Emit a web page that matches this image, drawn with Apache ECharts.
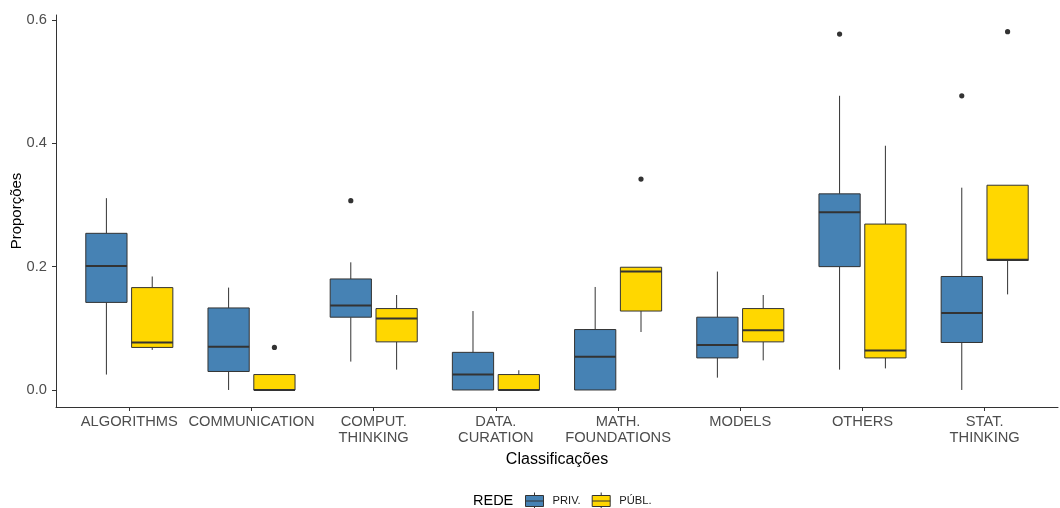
<!DOCTYPE html>
<html>
<head>
<meta charset="utf-8">
<script src="https://cdn.jsdelivr.net/npm/echarts@6/dist/echarts.min.js"></script>
<style>html,body{margin:0;padding:0;background:#fff}#c{width:1060px;height:508px}</style>
</head>
<body>
<div id="c"></div>
<script>
// Categories (x axis)
const categories = ['ALGORITHMS', 'COMMUNICATION', 'COMPUT.\nTHINKING', 'DATA.\nCURATION',
  'MATH.\nFOUNDATIONS', 'MODELS', 'OTHERS', 'STAT.\nTHINKING'];
// Box statistics per category: [min, Q1, median, Q3, max]
const privStats = [
  [0.025, 0.142, 0.201, 0.254, 0.311],
  [0.000, 0.030, 0.070, 0.133, 0.166],
  [0.046, 0.118, 0.137, 0.180, 0.207],
  [0.000, 0.000, 0.025, 0.061, 0.128],
  [0.000, 0.000, 0.054, 0.098, 0.167],
  [0.020, 0.052, 0.073, 0.118, 0.192],
  [0.033, 0.200, 0.288, 0.318, 0.477],
  [0.000, 0.077, 0.125, 0.184, 0.328]
];
const publStats = [
  [0.065, 0.069, 0.077, 0.166, 0.184],
  [0.000, 0.000, 0.000, 0.025, 0.025],
  [0.033, 0.078, 0.116, 0.132, 0.154],
  [0.000, 0.000, 0.000, 0.025, 0.032],
  [0.094, 0.128, 0.192, 0.199, 0.199],
  [0.048, 0.078, 0.097, 0.132, 0.154],
  [0.035, 0.052, 0.064, 0.269, 0.396],
  [0.155, 0.210, 0.211, 0.332, 0.332]
];
// Outliers: [category index, value]
const privOutliers = [[2, 0.307], [6, 0.577], [7, 0.477]];
const publOutliers = [[1, 0.069], [4, 0.342], [7, 0.581]];
// Y tick labels
const yTicks = [0, 0.2, 0.4, 0.6];
const xTicks = categories.map((c, i) => i);

const FONT = 'Liberation Sans, Arial, sans-serif';
const BLUE = '#4682B4', GOLD = '#FFD700', EDGE = '#333333';
const DODGE = 0.1875, BOXW = 0.3375;

function boxRender(off, fill) {
  return function (params, api) {
    const x = api.value(0);
    const unit = api.size([1, 0])[0];
    const cx = api.coord([x, 0])[0] + off * unit;
    const half = BOXW * unit / 2;
    const y = k => api.coord([x, api.value(k)])[1];
    const yMin = y(1), yQ1 = y(2), yMed = y(3), yQ3 = y(4), yMax = y(5);
    return {
      type: 'group',
      children: [
        { type: 'line', shape: { x1: cx, y1: yQ3, x2: cx, y2: yMax }, style: { stroke: EDGE, lineWidth: 1 } },
        { type: 'line', shape: { x1: cx, y1: yQ1, x2: cx, y2: yMin }, style: { stroke: EDGE, lineWidth: 1 } },
        { type: 'rect', shape: { x: cx - half, y: yQ3, width: 2 * half, height: yQ1 - yQ3 },
          style: { fill: fill, stroke: EDGE, lineWidth: 1 } },
        { type: 'line', shape: { x1: cx - half, y1: yMed, x2: cx + half, y2: yMed }, style: { stroke: EDGE, lineWidth: 2 } }
      ]
    };
  };
}
function outlierRender(off) {
  return function (params, api) {
    const x = api.value(0);
    const unit = api.size([1, 0])[0];
    const p = api.coord([x, api.value(1)]);
    return { type: 'circle', shape: { cx: p[0] + off * unit, cy: p[1], r: 2.6 }, style: { fill: EDGE } };
  };
}

const iconPath = 'path://M0,3L18,3L18,14L0,14Z M0,8.5L18,8.5 M9,0L9,3 M9,14L9,17';

const chart = echarts.init(document.getElementById('c'), null, { renderer: 'canvas' });
chart.setOption({
  animation: false,
  backgroundColor: '#fff',
  textStyle: { fontFamily: FONT },
  title: {
    text: 'REDE', left: 473, top: 493, padding: 0,
    textStyle: { fontSize: 14.5, fontWeight: 'normal', color: '#000', fontFamily: FONT }
  },
  legend: {
    left: 525, top: 492, padding: 0, itemWidth: 18, itemHeight: 17, itemGap: 11,
    textStyle: { fontSize: 11.2, color: '#1a1a1a', fontFamily: FONT, padding: [0, 0, 0, 4] },
    data: [
      { name: 'PRIV.', icon: iconPath, itemStyle: { color: BLUE, borderColor: EDGE, borderWidth: 1 } },
      { name: 'PÚBL.', icon: iconPath, itemStyle: { color: GOLD, borderColor: EDGE, borderWidth: 1 } }
    ]
  },
  grid: { left: 56, right: 2, top: 15, bottom: 101, containLabel: false, outerBoundsMode: 'none' },
  xAxis: {
    type: 'value', min: -0.6, max: 7.6,
    name: 'Classificações', nameLocation: 'middle', nameGap: 45, nameMoveOverlap: false,
    nameTextStyle: { fontSize: 16, color: '#000', fontFamily: FONT },
    axisLine: { show: true, onZero: false, lineStyle: { color: EDGE, width: 1 } },
    axisTick: { show: true, customValues: xTicks, length: 4, lineStyle: { color: EDGE } },
    axisLabel: {
      customValues: xTicks, formatter: v => categories[Math.round(v)],
      fontSize: 14.7, lineHeight: 15.7, color: '#4D4D4D', margin: 7, fontFamily: FONT
    },
    splitLine: { show: false }
  },
  yAxis: {
    type: 'value', min: -0.0276, max: 0.608,
    name: 'Proporções', nameLocation: 'middle', nameGap: 32, nameMoveOverlap: false,
    nameTextStyle: { fontSize: 15, color: '#000', fontFamily: FONT },
    axisLine: { show: true, onZero: false, lineStyle: { color: EDGE, width: 1 } },
    axisTick: { show: true, customValues: yTicks, length: 4, lineStyle: { color: EDGE } },
    axisLabel: {
      customValues: yTicks, formatter: v => v.toFixed(1),
      fontSize: 14.7, color: '#4D4D4D', margin: 9, fontFamily: FONT
    },
    splitLine: { show: false }
  },
  series: [
    { name: 'PRIV.', type: 'custom', renderItem: boxRender(-DODGE, BLUE), itemStyle: { color: BLUE },
      encode: { x: 0, y: [1, 2, 3, 4, 5] }, data: privStats.map((s, i) => [i].concat(s)) },
    { name: 'PÚBL.', type: 'custom', renderItem: boxRender(DODGE, GOLD), itemStyle: { color: GOLD },
      encode: { x: 0, y: [1, 2, 3, 4, 5] }, data: publStats.map((s, i) => [i].concat(s)) },
    { name: 'PRIV.', type: 'custom', renderItem: outlierRender(-DODGE), itemStyle: { color: BLUE },
      encode: { x: 0, y: 1 }, data: privOutliers },
    { name: 'PÚBL.', type: 'custom', renderItem: outlierRender(DODGE), itemStyle: { color: GOLD },
      encode: { x: 0, y: 1 }, data: publOutliers }
  ]
});
</script>
</body>
</html>
